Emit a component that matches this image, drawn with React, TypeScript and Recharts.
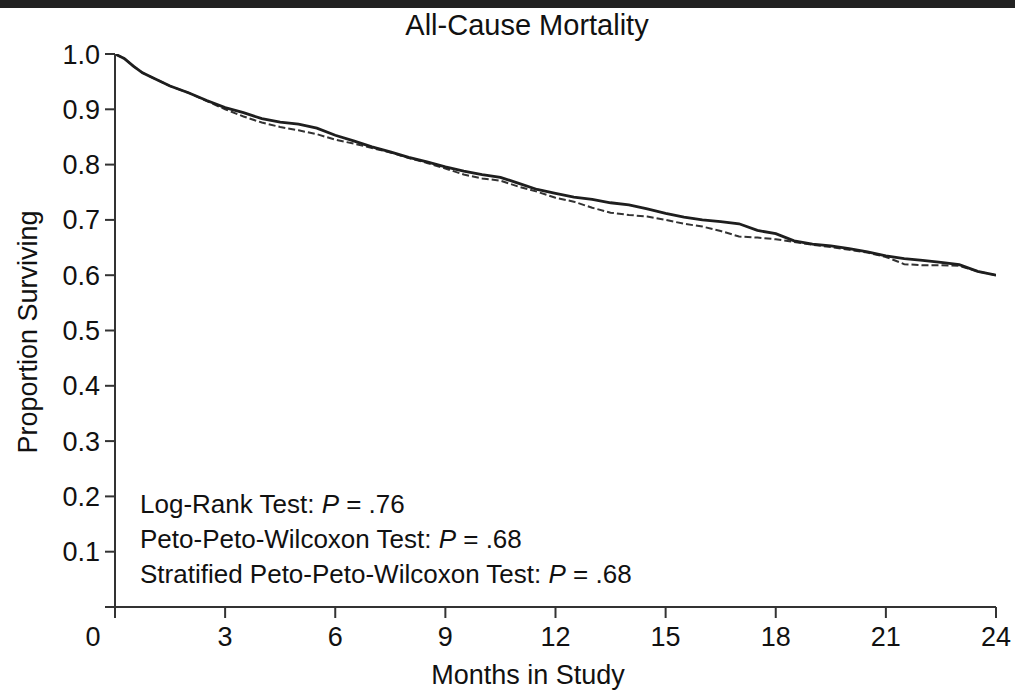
import React from 'react';
import { LineChart, Line, XAxis, YAxis } from 'recharts';

const months = [
  0, 0.25, 0.5, 0.75, 1, 1.5, 2, 2.5, 3, 3.5, 4, 4.5, 5, 5.5, 6, 6.5, 7, 7.5, 8, 8.5,
  9, 9.5, 10, 10.5, 11, 11.5, 12, 12.5, 13, 13.5, 14, 14.5, 15, 15.5, 16, 16.5, 17,
  17.5, 18, 18.5, 19, 19.5, 20, 20.5, 21, 21.5, 22, 22.5, 23, 23.5, 24,
];

const solidSurvival = [
  1.0, 0.992, 0.978, 0.966, 0.958, 0.942, 0.93, 0.916, 0.903, 0.894, 0.883, 0.877, 0.873,
  0.866, 0.853, 0.843, 0.832, 0.823, 0.813, 0.805, 0.796, 0.788, 0.782, 0.777, 0.766,
  0.755, 0.748, 0.741, 0.737, 0.731, 0.727, 0.72, 0.712, 0.705, 0.7, 0.697, 0.693, 0.681,
  0.675, 0.662, 0.656, 0.653, 0.648, 0.642, 0.635, 0.63, 0.627, 0.623, 0.619, 0.607, 0.6,
];

const dashedSurvival = [
  1.0, 0.992, 0.978, 0.966, 0.958, 0.942, 0.93, 0.915, 0.9, 0.887, 0.876, 0.868, 0.862,
  0.855, 0.845, 0.838, 0.83, 0.822, 0.812, 0.803, 0.793, 0.782, 0.775, 0.771, 0.76, 0.751,
  0.74, 0.733, 0.722, 0.713, 0.709, 0.706, 0.7, 0.693, 0.688, 0.68, 0.67, 0.668, 0.665,
  0.66, 0.655, 0.651, 0.646, 0.641, 0.633, 0.62, 0.618, 0.618, 0.617, 0.607, 0.6,
];

const xTicks = [0, 3, 6, 9, 12, 15, 18, 21, 24];
const yTicks = [0, 0.1, 0.2, 0.3, 0.4, 0.5, 0.6, 0.7, 0.8, 0.9, 1.0];

const chartTitle = 'All-Cause Mortality';
const xAxisTitle = 'Months in Study';
const yAxisTitle = 'Proportion Surviving';
const testNames = ['Log-Rank Test: ', 'Peto-Peto-Wilcoxon Test: ', 'Stratified Peto-Peto-Wilcoxon Test: '];
const testPValues = ['.76', '.68', '.68'];

const data = months.map((m, i) => ({ m, solid: solidSurvival[i], dashed: dashedSurvival[i] }));

const FONT = '"Liberation Sans", Arial, Helvetica, sans-serif';
const TEXT = '#111';
const AXIS = '#333';

const XTick = (props: any) => {
  const { x, y, payload } = props;
  const v = payload.value;
  const tx = v === 0 ? x - 22 : x;
  return (
    <text x={tx} y={y} dy="0.71em" textAnchor="middle" fontSize={27} fontFamily={FONT} fill={TEXT}>
      {String(v)}
    </text>
  );
};

export default function App() {
  return (
    <div style={{ position: 'absolute', left: 0, top: 0, width: 1015, height: 690, background: '#fff', overflow: 'hidden' }}>
      <div style={{ position: 'absolute', left: 0, top: 0, width: 1015, height: 8, background: '#222' }} />
      <LineChart width={1015} height={690} data={data} margin={{ top: 54, right: 19, bottom: 0, left: 0 }}>
        <XAxis
          dataKey="m"
          type="number"
          domain={[0, 24]}
          ticks={xTicks}
          interval={0}
          height={83}
          tickSize={11}
          tickMargin={9}
          axisLine={{ stroke: AXIS, strokeWidth: 2 }}
          tickLine={{ stroke: AXIS, strokeWidth: 2 }}
          tick={<XTick />}
          allowDataOverflow
        />
        <YAxis
          type="number"
          domain={[0, 1]}
          ticks={yTicks}
          interval={0}
          width={115}
          tickSize={10}
          tickMargin={5}
          axisLine={{ stroke: AXIS, strokeWidth: 2 }}
          tickLine={{ stroke: AXIS, strokeWidth: 2 }}
          tickFormatter={(v: number) => (v === 0 ? '' : v.toFixed(1))}
          tick={{ fontSize: 27, fontFamily: FONT, fill: TEXT }}
          allowDataOverflow
        />
        <Line
          type="linear"
          dataKey="dashed"
          stroke="#333"
          strokeWidth={2}
          strokeDasharray="7 3"
          dot={false}
          isAnimationActive={false}
        />
        <Line
          type="linear"
          dataKey="solid"
          stroke="#1e1e1e"
          strokeWidth={2.8}
          dot={false}
          isAnimationActive={false}
        />
      </LineChart>
      <svg
        width={1015}
        height={690}
        style={{ position: 'absolute', left: 0, top: 0, pointerEvents: 'none' }}
      >
        <text x={527} y={35} textAnchor="middle" fontSize={29} fontFamily={FONT} fill={TEXT}>
          {chartTitle}
        </text>
        <text
          transform="translate(37,332) rotate(-90)"
          textAnchor="middle"
          fontSize={27}
          fontFamily={FONT}
          fill={TEXT}
        >
          {yAxisTitle}
        </text>
        <text x={528} y={684} textAnchor="middle" fontSize={27} fontFamily={FONT} fill={TEXT}>
          {xAxisTitle}
        </text>
        {testNames.map((name, i) => (
          <text key={name} x={140} y={513 + i * 35} fontSize={26} fontFamily={FONT} fill={TEXT}>
            {name}
            <tspan fontStyle="italic">P</tspan>
            {' = ' + testPValues[i]}
          </text>
        ))}
      </svg>
    </div>
  );
}
